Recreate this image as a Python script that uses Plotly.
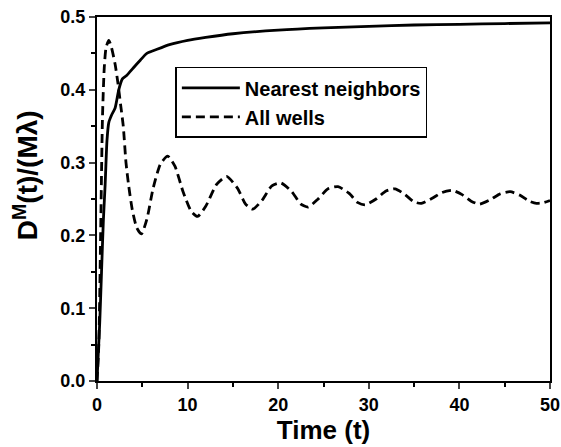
import plotly.graph_objects as go

# Nearest neighbors (solid)
t_nn = [0, 0.3, 0.5, 0.7, 0.9, 1.1, 1.3, 1.6, 2.0, 2.4, 2.8, 3.3, 4.0, 4.8, 5.5, 6.5, 8, 10, 12, 15, 20, 25, 30, 35, 40, 45, 50]
d_nn = [0, 0.08, 0.15, 0.22, 0.27, 0.33, 0.355, 0.365, 0.375, 0.40, 0.415, 0.42, 0.43, 0.441, 0.45, 0.455, 0.462, 0.468, 0.472, 0.477, 0.482, 0.485, 0.487, 0.489, 0.490, 0.491, 0.492]

# All wells (dashed)
t_aw = [0, 0.2, 0.4, 0.6, 0.8, 1.0, 1.3, 1.6, 2.0, 2.3, 2.6, 2.9, 3.2, 3.5, 3.9, 4.4, 4.9, 5.5, 6.2, 7.0, 7.8,
        8.6, 9.5, 10.4, 11.1, 12.0, 13.2, 14.3, 15.5, 16.4, 17.2, 18.2, 19.3, 20.3, 21.5, 22.5, 23.3, 24.4,
        25.5, 26.6, 27.8, 28.8, 29.6, 30.8, 31.9, 32.9, 34.0, 35.0, 35.8, 37.0, 38.1, 39.2, 40.3, 41.3, 42.2,
        43.4, 44.5, 45.6, 46.7, 47.7, 48.5, 49.3, 50]
d_aw = [0, 0.05, 0.2, 0.36, 0.43, 0.458, 0.468, 0.458, 0.435, 0.41, 0.38, 0.35, 0.30, 0.268, 0.235, 0.21, 0.202,
        0.222, 0.265, 0.298, 0.309, 0.295, 0.26, 0.233, 0.226, 0.24, 0.27, 0.281, 0.265, 0.243, 0.236, 0.248,
        0.268, 0.272, 0.26, 0.243, 0.239, 0.25, 0.264, 0.267, 0.258, 0.245, 0.242, 0.25, 0.261, 0.264, 0.256,
        0.246, 0.244, 0.251, 0.259, 0.262, 0.256, 0.247, 0.243, 0.249, 0.257, 0.26, 0.255, 0.247, 0.244, 0.245, 0.248]

x_ticks = [0, 10, 20, 30, 40, 50]
y_ticks = [0.0, 0.1, 0.2, 0.3, 0.4, 0.5]
x_title = "Time (t)"
y_title = "D<sup>M</sup>(t)/(Mλ)"

fig = go.Figure()
fig.add_trace(go.Scatter(x=t_nn, y=d_nn, mode="lines", name="Nearest neighbors",
                         line=dict(color="black", width=2.8, shape="spline", smoothing=0.6)))
fig.add_trace(go.Scatter(x=t_aw, y=d_aw, mode="lines", name="All wells",
                         line=dict(color="black", width=2.8, dash="9px,5px", shape="spline", smoothing=0.6)))

font_family = "Liberation Sans, Arial, sans-serif"
fig.update_layout(
    width=561, height=447,
    margin=dict(l=97, r=11, t=17, b=66, autoexpand=False),
    paper_bgcolor="white", plot_bgcolor="white",
    font=dict(family=font_family, color="black"),
    showlegend=True,
    legend=dict(x=0.173, y=0.863, xanchor="left", yanchor="top",
                bgcolor="white", bordercolor="black", borderwidth=1.5,
                font=dict(size=20, weight="bold", family=font_family),
                tracegroupgap=0, itemwidth=58),
    xaxis=dict(range=[0, 50], tickvals=x_ticks, ticks="outside", ticklen=6, tickwidth=2,
               showline=True, linewidth=2, linecolor="black", mirror=True,
               showgrid=False, zeroline=False,
               tickfont=dict(size=18, weight="bold"),
               minor=dict(dtick=5, ticks="outside", ticklen=4, tickwidth=2, tickcolor="black", showgrid=False),
               title=dict(text=x_title, font=dict(size=26, weight="bold"), standoff=2)),
    yaxis=dict(range=[0, 0.5], tickvals=y_ticks, tickformat=".1f", ticks="outside", ticklen=6, tickwidth=2,
               showline=True, linewidth=2, linecolor="black", mirror=True,
               showgrid=False, zeroline=False,
               tickfont=dict(size=18, weight="bold"),
               minor=dict(dtick=0.05, ticks="outside", ticklen=4, tickwidth=2, tickcolor="black", showgrid=False)),
    annotations=[dict(text=y_title, xref="paper", yref="paper", x=-0.157, y=0.565,
                      xanchor="center", yanchor="middle", textangle=-90, showarrow=False,
                      font=dict(size=28, weight="bold", family=font_family))],
)

fig.write_html("out.html")
